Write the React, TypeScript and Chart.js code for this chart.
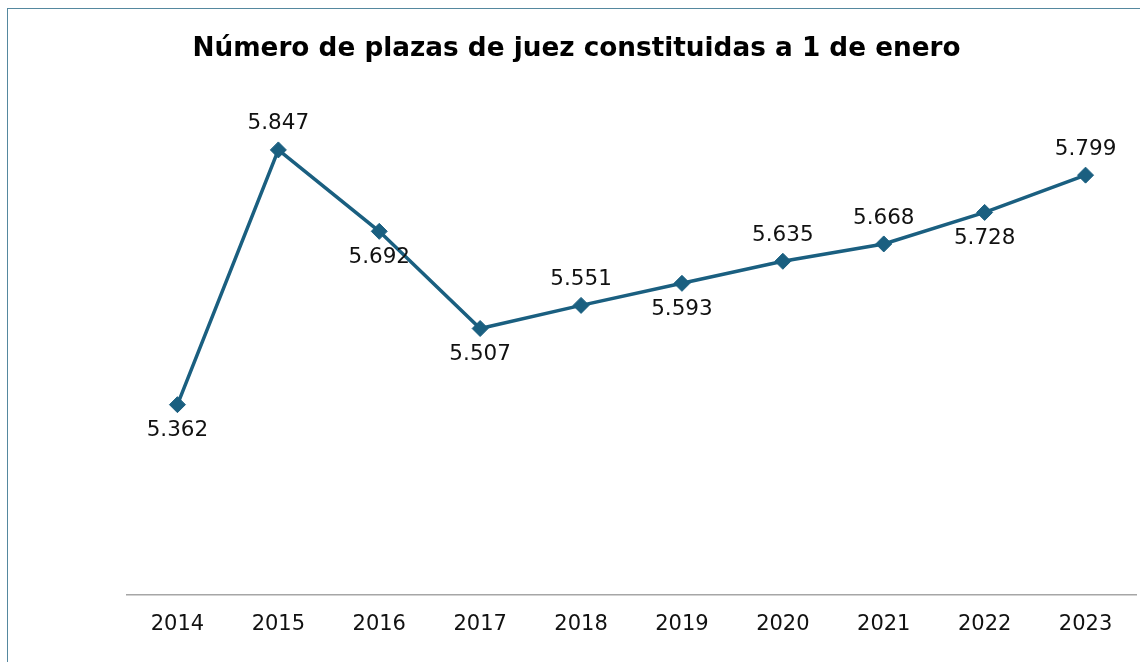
import React, { useEffect, useRef } from "react";
import { Chart, registerables } from "chart.js";

Chart.register(...registerables);

const categories = ["2014", "2015", "2016", "2017", "2018", "2019", "2020", "2021", "2022", "2023"];
const plazas = [5362, 5847, 5692, 5507, 5551, 5593, 5635, 5668, 5728, 5799];
const labelSide = ["below", "above", "below", "below", "above", "below", "above", "above", "below", "above"];
const titleText = "Número de plazas de juez constituidas a 1 de enero";

const COLOR = "#1a5f80";
const FONT = "Verdana, 'DejaVu Sans', sans-serif";

const fmt = (v: number) => (v / 1000).toFixed(3);

const labelsPlugin = {
  id: "pointLabels",
  afterDatasetsDraw(chart: any) {
    const ctx = chart.ctx;
    const meta = chart.getDatasetMeta(0);
    ctx.save();
    ctx.font = `21.5px ${FONT}`;
    ctx.fillStyle = "#111";
    ctx.textAlign = "center";
    ctx.textBaseline = "middle";
    meta.data.forEach((pt: any, i: number) => {
      const dy = labelSide[i] === "above" ? -26 : 26;
      ctx.fillText(fmt(plazas[i]), pt.x, pt.y + dy);
    });
    ctx.restore();
  },
};

export default function App() {
  const ref = useRef<HTMLCanvasElement>(null);
  useEffect(() => {
    if (!ref.current) return;
    const chart = new Chart(ref.current, {
      type: "line",
      data: {
        labels: categories,
        datasets: [
          {
            data: plazas,
            borderColor: COLOR,
            backgroundColor: COLOR,
            borderWidth: 3.5,
            pointStyle: "rectRot",
            pointRadius: 8,
            pointBorderWidth: 1,
            pointBackgroundColor: COLOR,
            pointBorderColor: COLOR,
            tension: 0,
            clip: false,
          },
        ],
      },
      options: {
        responsive: false,
        animation: false,
        layout: { autoPadding: false, padding: { left: 17, right: 4, top: 0, bottom: 8 } },
        plugins: {
          legend: { display: false },
          tooltip: { enabled: false },
          title: {
            display: true,
            text: titleText,
            color: "#000",
            font: { family: FONT, size: 26.3, weight: "bold" },
            padding: { top: 33, bottom: 5 },
          },
        },
        scales: {
          x: {
            offset: true,
            grid: { display: false, drawTicks: false },
            border: { display: true, color: "#a6a6a6", width: 1.5 },
            ticks: { color: "#111", padding: 17, font: { family: FONT, size: 21 } },
          },
          y: {
            min: 5000,
            max: 6000,
            grid: { display: false, drawTicks: false },
            border: { display: false },
            ticks: { display: false },
            afterFit(scale: any) {
              scale.width = 110;
            },
          },
        },
      },
      plugins: [labelsPlugin],
    });
    return () => chart.destroy();
  }, []);
  return (
    <>
      <div
        style={{
          position: "fixed",
          left: 7,
          top: 8,
          width: 1300,
          height: 800,
          borderTop: "1.5px solid #55889f",
          borderLeft: "1.5px solid #55889f",
          boxSizing: "border-box",
        }}
      />
      <canvas
        ref={ref}
        width={1140}
        height={662}
        style={{ position: "fixed", left: 0, top: 0, width: 1140, height: 662 }}
      />
    </>
  );
}
